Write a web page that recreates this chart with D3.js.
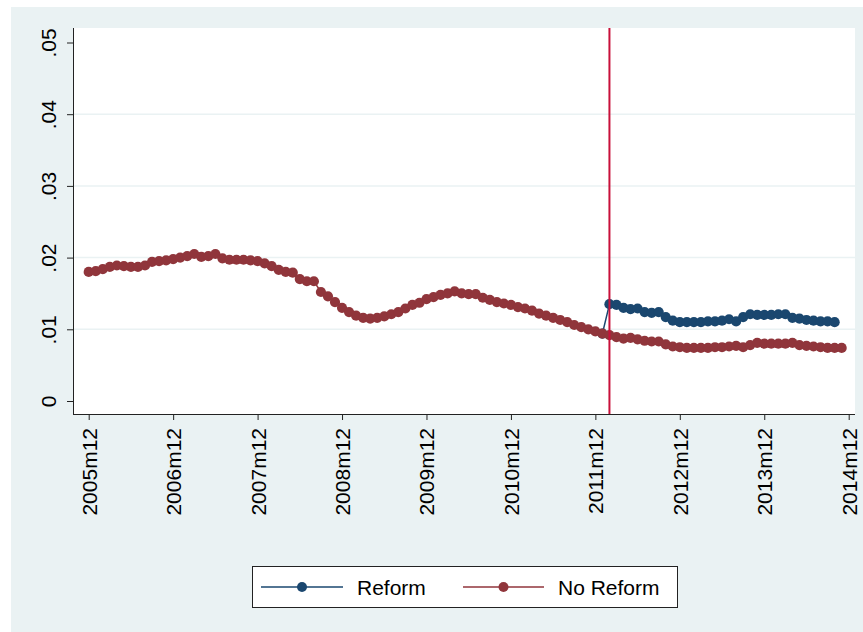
<!DOCTYPE html>
<html>
<head>
<meta charset="utf-8">
<script src="https://cdn.jsdelivr.net/npm/d3@7"></script>
<style>
  body { margin: 0; background: #fff; }
  text { font-family: "Liberation Sans", Arial, sans-serif; }
</style>
</head>
<body>
<script>
// Y axis ticks
const yTicks = [0, 0.01, 0.02, 0.03, 0.04, 0.05];
const yTickLabels = ["0", ".01", ".02", ".03", ".04", ".05"];
// X axis ticks (months since 2005m12)
const xTicks = [0, 12, 24, 36, 48, 60, 72, 84, 96, 108];
const xTickLabels = ["2005m12", "2006m12", "2007m12", "2008m12", "2009m12",
                     "2010m12", "2011m12", "2012m12", "2013m12", "2014m12"];

// No Reform, monthly from 2005m12 to 2014m11
const noReform = [
  .0180, .0181, .0184, .0187, .0189, .0188, .0187, .0187, .0189, .0194, .0195, .0196,
  .0198, .0200, .0202, .0205, .0201, .0202, .0205, .0199, .0197, .0197, .0197, .0196,
  .0195, .0192, .0188, .0183, .0180, .0179, .0170, .0167, .0167, .0152, .0146, .0138,
  .0130, .0124, .0119, .0116, .0115, .0116, .0118, .0121, .0124, .0129, .0134, .0137,
  .0142, .0145, .0148, .0150, .0153, .0150, .0149, .0149, .0144, .0141, .0138, .0136,
  .0134, .0131, .0129, .0126, .0122, .0119, .0116, .0113, .0110, .0106, .0103, .0100,
  .0097, .0094, .0092, .0089, .0087, .0088, .0086, .0084, .0083, .0083, .0079, .0076,
  .0075, .0074, .0074, .0074, .0074, .0075, .0075, .0076, .0077, .0075, .0078, .0081,
  .0080, .0080, .0080, .0080, .0081, .0078, .0077, .0076, .0075, .0074, .0074, .0074
];
// Reform, monthly from 2012m1 (month 73) to 2014m11
const reformStart = 73;
const reform = [
  .0094, .0135, .0134, .0130, .0128, .0129, .0124, .0123, .0124, .0117, .0112,
  .0110, .0110, .0110, .0110, .0111, .0111, .0112, .0114, .0111, .0117, .0121,
  .0120, .0120, .0120, .0121, .0121, .0116, .0115, .0113, .0112, .0111, .0111, .0110
];
// Reform date (2012m2)
const reformMonth = 74;

const seriesNames = ["Reform", "No Reform"];
const colors = ["#1A476F", "#90353B"];

const width = 863;
const height = 632;
const plot = {left: 73, right: 855, top: 28, bottom: 414};

const svg = d3.select("body").append("svg")
    .attr("width", width)
    .attr("height", height);

// graph region background
svg.append("rect")
    .attr("x", 11).attr("y", 7)
    .attr("width", width - 11).attr("height", height - 7)
    .attr("fill", "#EAF2F3");
// plot region
svg.append("rect")
    .attr("x", plot.left).attr("y", plot.top)
    .attr("width", plot.right - plot.left).attr("height", plot.bottom - plot.top)
    .attr("fill", "#fff");

const x = d3.scaleLinear().domain([0, 108]).range([88.7, 848.7]);
const y = d3.scaleLinear().domain([0, 0.05]).range([401, 42.5]);

// grid lines
svg.append("g").selectAll("line")
    .data(yTicks.slice(1, -1))
    .enter().append("line")
    .attr("x1", plot.left).attr("x2", plot.right)
    .attr("y1", d => y(d)).attr("y2", d => y(d))
    .attr("stroke", "#EAF2F3")
    .attr("stroke-width", 1.5);

// y axis
const yAxis = svg.append("g")
    .attr("transform", `translate(${plot.left},0)`)
    .call(d3.axisLeft(y).tickValues(yTicks).tickSize(6)
        .tickFormat((d, i) => yTickLabels[i]));
yAxis.select(".domain").remove();
yAxis.selectAll(".tick line").attr("stroke", "#222");
yAxis.selectAll(".tick text")
    .attr("x", null).attr("dy", null)
    .attr("transform", "translate(-17,0) rotate(-90)")
    .attr("text-anchor", "middle")
    .attr("fill", "#000")
    .style("font-size", "21px");

// x axis
const xAxis = svg.append("g")
    .attr("transform", `translate(0,${plot.bottom})`)
    .call(d3.axisBottom(x).tickValues(xTicks).tickSize(6)
        .tickFormat((d, i) => xTickLabels[i]));
xAxis.select(".domain").remove();
xAxis.selectAll(".tick line").attr("stroke", "#222");
xAxis.selectAll(".tick text")
    .attr("y", null).attr("dy", null)
    .attr("transform", "translate(7.5,14) rotate(-90)")
    .attr("text-anchor", "end")
    .attr("fill", "#000")
    .style("font-size", "21px");

// axis lines
svg.append("line")
    .attr("x1", plot.left + 0.5).attr("x2", plot.left + 0.5)
    .attr("y1", plot.top).attr("y2", plot.bottom + 0.5)
    .attr("stroke", "#222");
svg.append("line")
    .attr("x1", plot.left).attr("x2", plot.right)
    .attr("y1", plot.bottom + 0.5).attr("y2", plot.bottom + 0.5)
    .attr("stroke", "#222");

// series
const reformPoints = reform.map((v, i) => ({m: reformStart + i, v: v}));
const noReformPoints = noReform.map((v, i) => ({m: i, v: v}));
const allSeries = [reformPoints, noReformPoints];

const line = d3.line()
    .x(d => x(d.m))
    .y(d => y(d.v));

allSeries.forEach((pts, k) => {
    const g = svg.append("g");
    g.append("path")
        .datum(pts)
        .attr("d", line)
        .attr("fill", "none")
        .attr("stroke", colors[k])
        .attr("stroke-width", 1.5);
    g.selectAll("circle")
        .data(pts)
        .enter().append("circle")
        .attr("cx", d => x(d.m))
        .attr("cy", d => y(d.v))
        .attr("r", 5.1)
        .attr("fill", colors[k]);
});

// reform line
svg.append("line")
    .attr("x1", x(reformMonth)).attr("x2", x(reformMonth))
    .attr("y1", plot.top).attr("y2", plot.bottom)
    .attr("stroke", "#C8103A")
    .attr("stroke-width", 2);

// legend
const legend = svg.append("g");
legend.append("rect")
    .attr("x", 252.5).attr("y", 566.5)
    .attr("width", 425).attr("height", 41)
    .attr("fill", "#fff")
    .attr("stroke", "#222");
const legendItems = [
    {x0: 261, x1: 343, tx: 357},
    {x0: 463, x1: 544, tx: 558}
];
legendItems.forEach((it, k) => {
    legend.append("line")
        .attr("x1", it.x0).attr("x2", it.x1)
        .attr("y1", 587).attr("y2", 587)
        .attr("stroke", colors[k])
        .attr("stroke-width", 1.5);
    legend.append("circle")
        .attr("cx", (it.x0 + it.x1) / 2).attr("cy", 587)
        .attr("r", 5)
        .attr("fill", colors[k]);
    legend.append("text")
        .attr("x", it.tx).attr("y", 595)
        .style("font-size", "21px")
        .attr("fill", "#000")
        .text(seriesNames[k]);
});
</script>
</body>
</html>
